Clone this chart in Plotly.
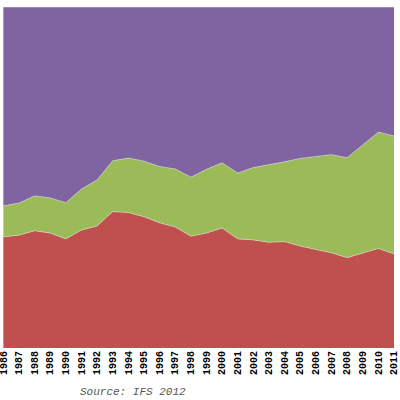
import plotly.graph_objects as go

years = list(range(1986, 2012))
red_share = [32.6, 33.1, 34.4, 33.7, 32.0, 34.6, 35.8, 40.0, 39.7, 38.5, 36.7, 35.5, 32.8,
             33.7, 35.2, 32.0, 31.7, 31.0, 31.2, 29.9, 28.9, 27.9, 26.5, 27.8, 29.2, 27.6]
green_share = [9.1, 9.4, 10.2, 10.3, 10.6, 12.0, 13.5, 14.9, 16.0, 16.3, 16.5, 17.0, 17.3,
               18.7, 19.1, 19.3, 21.2, 22.7, 23.4, 25.7, 27.2, 28.8, 29.3, 31.7, 34.1, 34.6]
purple_share = [round(100 - r - g, 1) for r, g in zip(red_share, green_share)]
tick_labels = [str(y) for y in years]

fig = go.Figure()
for name, vals, col in [("Red", red_share, "#C0504D"),
                        ("Green", green_share, "#9BBB59"),
                        ("Purple", purple_share, "#8064A2")]:
    fig.add_trace(go.Scatter(x=years, y=vals, name=name, stackgroup="one",
                             mode="lines", line=dict(width=0.6, color="#d8d8d0"),
                             fillcolor=col, hoverinfo="skip"))

fig.update_layout(
    width=400, height=400,
    margin=dict(l=1, r=6, t=7, b=52, autoexpand=False),
    paper_bgcolor="white", plot_bgcolor="white",
    showlegend=False,
    xaxis=dict(range=[1985.85, 2011], tickmode="array", tickvals=years, ticktext=tick_labels,
               tickangle=-90, showgrid=False, zeroline=False, showline=False, ticks="",
               ticklabeloverflow="allow", automargin=False,
               tickfont=dict(family="Liberation Mono", size=10, color="black", weight="bold")),
    yaxis=dict(range=[0, 100], showgrid=False, zeroline=False, showticklabels=False,
               showline=False, ticks=""),
    annotations=[dict(text="Source: IFS 2012", xref="paper", yref="paper",
                      x=0.337, y=-0.129, xanchor="center", yanchor="middle", showarrow=False,
                      font=dict(family="Liberation Mono", size=11, color="#555555", style="italic"))],
)

fig.write_html("out.html", config={"displayModeBar": False},
               post_script="document.body.style.margin='0';document.body.style.padding='0';")
